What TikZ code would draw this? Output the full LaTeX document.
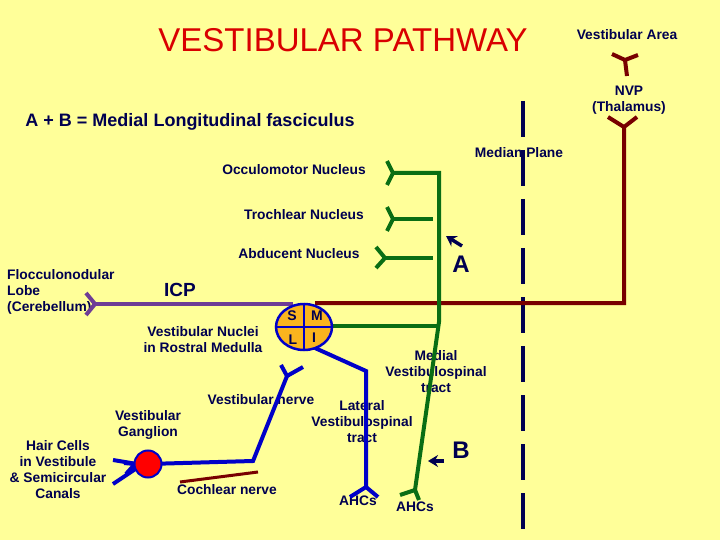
\documentclass[tikz,border=0pt]{standalone}
\usepackage{fontspec}
\setmainfont{Liberation Sans}
\usetikzlibrary{shapes.geometric,arrows.meta}
\begin{document}
\begin{tikzpicture}[x=1pt,y=-1pt,
  lbl/.style={font=\bfseries\fontsize{13.8}{16}\selectfont,text=navy,align=center,inner sep=0pt},
  big/.style={font=\bfseries\fontsize{24}{26}\selectfont,text=navy,inner sep=0pt},
  gr/.style={draw=dgreen,line width=4pt},
  rd/.style={draw=dred,line width=4pt},
  bl/.style={draw=nblue,line width=4pt},
  pu/.style={draw=purp,line width=4pt}]
\definecolor{bg}{RGB}{255,255,153}
\definecolor{navy}{RGB}{0,0,80}
\definecolor{dgreen}{RGB}{10,110,20}
\definecolor{dred}{RGB}{120,0,0}
\definecolor{nblue}{RGB}{0,0,200}
\definecolor{purp}{RGB}{110,60,150}
\definecolor{orng}{RGB}{250,180,30}
\fill[bg] (0,0) rectangle (720,540);
\useasboundingbox (0,0) rectangle (720,540);
% texts
\node[font=\fontsize{33}{36}\selectfont,text=red!85!black] (title) at (343,40) {VESTIBULAR PATHWAY};
\node[lbl] (va) at (627,35) {Vestibular Area};
\node[lbl] (nvp) at (629,100) {NVP\\(Thalamus)};
\node[lbl,font=\bfseries\fontsize{18}{20}\selectfont] (mlf) at (190,122) {A + B = Medial Longitudinal fasciculus};
\node[lbl] (mp) at (519,153) {Median Plane};
\node[lbl] (occ) at (294,170) {Occulomotor Nucleus};
\node[lbl] (tro) at (304,215) {Trochlear Nucleus};
\node[lbl] (abd) at (299,254) {Abducent Nucleus};
\node[big] (A) at (461,264) {A};
\node[big] (B) at (461,450) {B};
\node[lbl,align=left,anchor=west] (floc) at (7,292) {Flocculonodular\\Lobe\\(Cerebellum)};
\node[big,font=\bfseries\fontsize{19}{21}\selectfont] (icp) at (180,290) {ICP};
\node[lbl] (vn) at (203,340) {Vestibular Nuclei\\in Rostral Medulla};
\node[lbl] (mvt) at (436,372) {Medial\\Vestibulospinal\\tract};
\node[lbl] (vnerve) at (261,400) {Vestibular nerve};
\node[lbl] (lvt) at (362,422) {Lateral\\Vestibulospinal\\tract};
\node[lbl] (vg) at (148,425) {Vestibular\\Ganglion};
\node[lbl] (hc) at (58,470) {Hair Cells\\in Vestibule\\\& Semicircular\\Canals};
\node[lbl] (cn) at (227,490) {Cochlear nerve};
\node[lbl] (ahc1) at (358,501) {AHCs};
\node[lbl] (ahc2) at (415,507) {AHCs};
% median plane
\draw[navy,line width=4pt,dash pattern=on 36pt off 13pt] (523,101) -- (523,540);
% dark red pathway
\coordinate (f1) at (627,76);
\draw[rd] (f1) -- (625,60) -- (612,54) (625,60) -- (638,55);
\coordinate (f2) at (624,127);
\draw[rd] (608,117) -- (f2) -- (637,117) (f2) -- (624,303) -- (315,303);
\draw[rd,line width=3pt] (180,482) -- (258,472);
% green
\draw[gr] (393,173) -- (439,173) -- (439,322) -- (415,490);
\draw[gr] (393,219) -- (433,219);
\draw[gr] (385,258) -- (433,258);
\draw[gr] (332,326) -- (439,326);
\foreach \x/\y in {393/173,393/219}{\draw[gr] (\x-6,\y-12) -- (\x,\y) -- (\x-6,\y+12);}
\draw[gr] (376,247) -- (385,258) -- (376,268);
\draw[gr] (400,495) -- (415,490) -- (419,500);
% purple ICP
\draw[pu] (293,304) -- (95,304);
\draw[pu] (86,293) -- (95,304) -- (86,315);
% blue
\draw[bl] (315,348) -- (366,371) -- (366,487);
\draw[bl] (350,497) -- (366,487) -- (378,497);
\draw[bl] (148,464) -- (253,461) -- (287,376);
\draw[bl] (281,365) -- (287,376) -- (303,367);
\draw[bl] (113,460) -- (137,464) (113,484) -- (137,468) (124,463) -- (135,464) -- (126,474);
% nuclei
\node[draw=nblue,line width=2.5pt,fill=orng,ellipse,minimum width=56pt,minimum height=46pt,inner sep=0pt] (nuc) at (304,327) {};
\draw[nblue,line width=1.5pt] (nuc.north) -- (nuc.south) (nuc.west) -- (nuc.east);
\node[big,font=\bfseries\fontsize{14}{15}\selectfont] at (292,316) {S};
\node[big,font=\bfseries\fontsize{14}{15}\selectfont] at (317,316) {M};
\node[big,font=\bfseries\fontsize{14}{15}\selectfont] at (293,340) {L};
\node[big,font=\bfseries\fontsize{14}{15}\selectfont] at (314,338) {I};
% ganglion
\node[circle,draw=nblue,line width=2pt,fill=red,minimum size=27pt,inner sep=0pt] (gang) at (148,464) {};
% arrows
\coordinate (a1) at (462,246); \coordinate (a2) at (446,236);
\draw[navy,line width=3.5pt,-{Stealth[length=10pt,width=12pt]}] (a1) -- (a2);
\coordinate (b1) at (444,461); \coordinate (b2) at (428,461);
\draw[navy,line width=3.5pt,-{Stealth[length=10pt,width=12pt]}] (b1) -- (b2);
\end{tikzpicture}
\end{document}
